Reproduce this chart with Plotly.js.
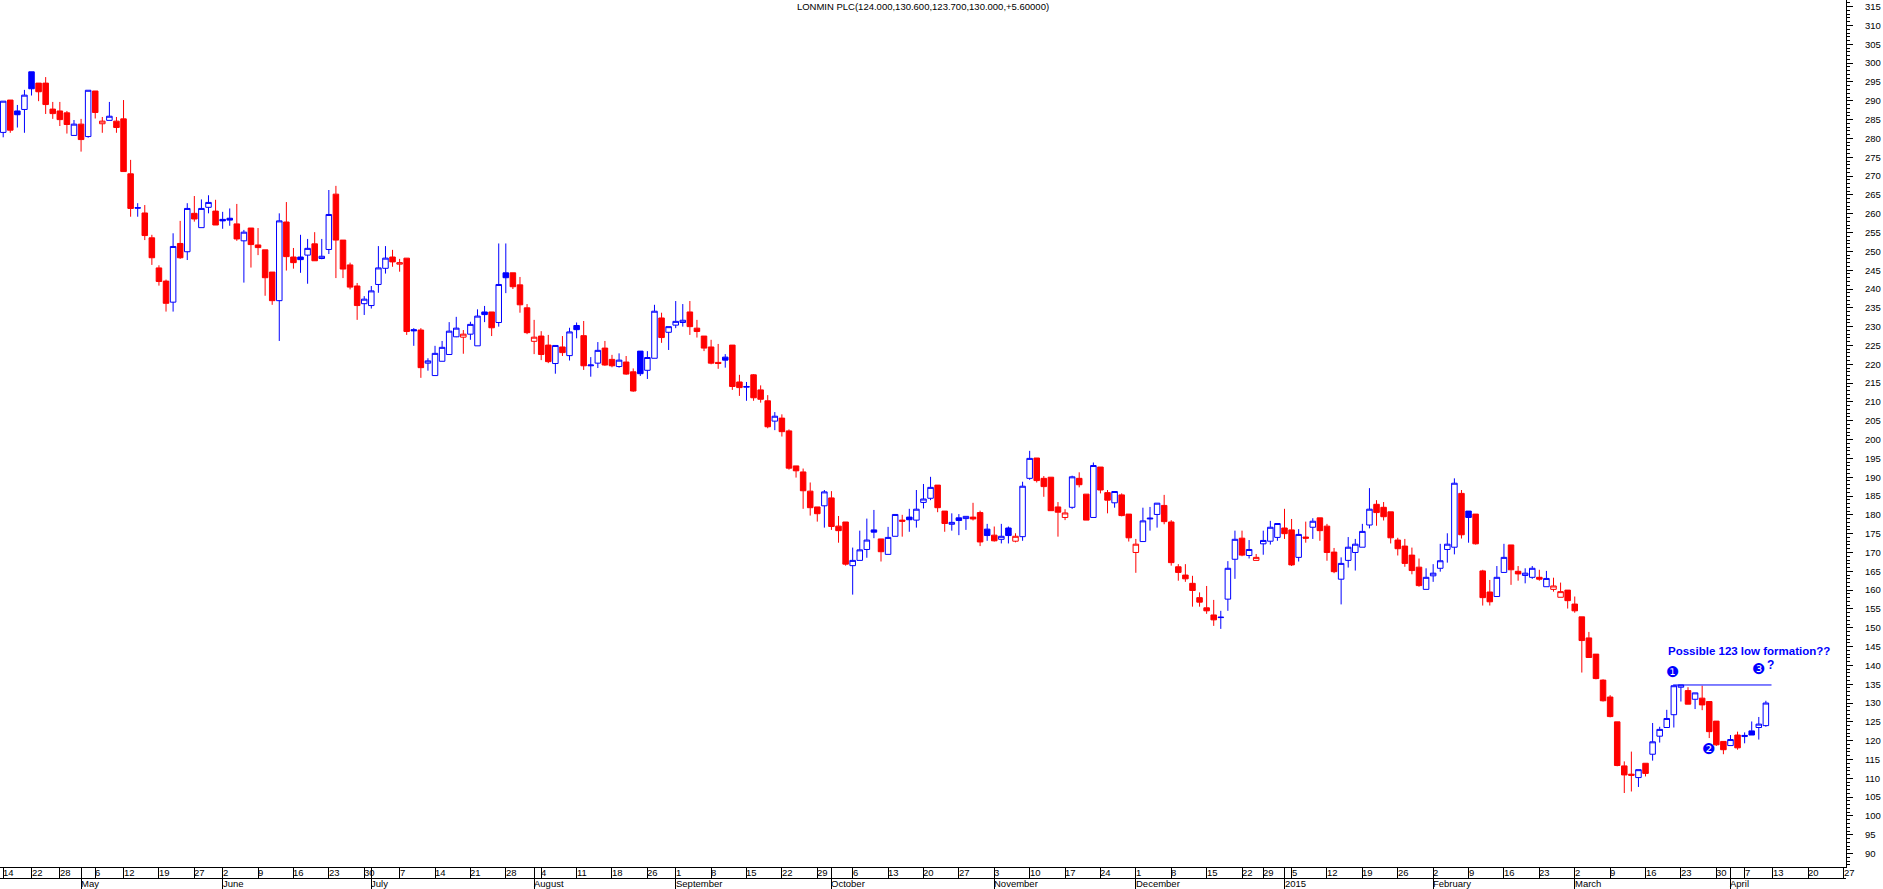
<!DOCTYPE html>
<html>
<head>
<meta charset="utf-8">
<script src="https://cdn.plot.ly/plotly-3.0.1.min.js"></script>
<style>html,body{margin:0;padding:0;background:#fff;overflow:hidden}</style>
</head>
<body>
<div id="chart" style="width:1883px;height:889px"></div>
<script>
// ---------- DATA ----------
const tradingDates = [
'2014-04-14','2014-04-15','2014-04-16','2014-04-17','2014-04-22','2014-04-23','2014-04-24','2014-04-25','2014-04-28','2014-04-29','2014-04-30',
'2014-05-01','2014-05-02','2014-05-06','2014-05-07','2014-05-08','2014-05-09','2014-05-12','2014-05-13','2014-05-14','2014-05-15','2014-05-16','2014-05-19','2014-05-20','2014-05-21','2014-05-22','2014-05-23','2014-05-27','2014-05-28','2014-05-29','2014-05-30',
'2014-06-02','2014-06-03','2014-06-04','2014-06-05','2014-06-06','2014-06-09','2014-06-10','2014-06-11','2014-06-12','2014-06-13','2014-06-16','2014-06-17','2014-06-18','2014-06-19','2014-06-20','2014-06-23','2014-06-24','2014-06-25','2014-06-26','2014-06-27','2014-06-30',
'2014-07-01','2014-07-02','2014-07-03','2014-07-04','2014-07-07','2014-07-08','2014-07-09','2014-07-10','2014-07-11','2014-07-14','2014-07-15','2014-07-16','2014-07-17','2014-07-18','2014-07-21','2014-07-22','2014-07-23','2014-07-24','2014-07-25','2014-07-28','2014-07-29','2014-07-30','2014-07-31',
'2014-08-01','2014-08-04','2014-08-05','2014-08-06','2014-08-07','2014-08-08','2014-08-11','2014-08-12','2014-08-13','2014-08-14','2014-08-15','2014-08-18','2014-08-19','2014-08-20','2014-08-21','2014-08-22','2014-08-26','2014-08-27','2014-08-28','2014-08-29',
'2014-09-01','2014-09-02','2014-09-03','2014-09-04','2014-09-05','2014-09-08','2014-09-09','2014-09-10','2014-09-11','2014-09-12','2014-09-15','2014-09-16','2014-09-17','2014-09-18','2014-09-19','2014-09-22','2014-09-23','2014-09-24','2014-09-25','2014-09-26','2014-09-29','2014-09-30',
'2014-10-01','2014-10-02','2014-10-03','2014-10-06','2014-10-07','2014-10-08','2014-10-09','2014-10-10','2014-10-13','2014-10-14','2014-10-15','2014-10-16','2014-10-17','2014-10-20','2014-10-21','2014-10-22','2014-10-23','2014-10-24','2014-10-27','2014-10-28','2014-10-29','2014-10-30','2014-10-31',
'2014-11-03','2014-11-04','2014-11-05','2014-11-06','2014-11-07','2014-11-10','2014-11-11','2014-11-12','2014-11-13','2014-11-14','2014-11-17','2014-11-18','2014-11-19','2014-11-20','2014-11-21','2014-11-24','2014-11-25','2014-11-26','2014-11-27','2014-11-28',
'2014-12-01','2014-12-02','2014-12-03','2014-12-04','2014-12-05','2014-12-08','2014-12-09','2014-12-10','2014-12-11','2014-12-12','2014-12-15','2014-12-16','2014-12-17','2014-12-18','2014-12-19','2014-12-22','2014-12-23','2014-12-24','2014-12-29','2014-12-30','2014-12-31',
'2015-01-02','2015-01-05','2015-01-06','2015-01-07','2015-01-08','2015-01-09','2015-01-12','2015-01-13','2015-01-14','2015-01-15','2015-01-16','2015-01-19','2015-01-20','2015-01-21','2015-01-22','2015-01-23','2015-01-26','2015-01-27','2015-01-28','2015-01-29','2015-01-30',
'2015-02-02','2015-02-03','2015-02-04','2015-02-05','2015-02-06','2015-02-09','2015-02-10','2015-02-11','2015-02-12','2015-02-13','2015-02-16','2015-02-17','2015-02-18','2015-02-19','2015-02-20','2015-02-23','2015-02-24','2015-02-25','2015-02-26','2015-02-27',
'2015-03-02','2015-03-03','2015-03-04','2015-03-05','2015-03-06','2015-03-09','2015-03-10','2015-03-11','2015-03-12','2015-03-13','2015-03-16','2015-03-17','2015-03-18','2015-03-19','2015-03-20','2015-03-23','2015-03-24','2015-03-25','2015-03-26','2015-03-27','2015-03-30','2015-03-31',
'2015-04-01','2015-04-02','2015-04-07','2015-04-08','2015-04-09','2015-04-10'
];
// empty trading days still shown on the time axis after the last bar
const futureDates = ['2015-04-13','2015-04-14','2015-04-15','2015-04-16','2015-04-17','2015-04-20','2015-04-21','2015-04-22','2015-04-23','2015-04-24','2015-04-27','2015-04-28'];

const openP = [
281.6,290.2,287.3,287.7,297.7,294.7,294.7,287.8,287.3,286.8,280.8,283.8,280.5,292.6,283.9,284.8,284.6,285.2,270.6,261.6,
260.2,253.6,245.6,242.1,236.5,252.1,249.9,260.1,256.3,261.7,260.7,258.5,258.8,257.3,252.8,256.2,251.7,250.4,244.5,236.9,
257.8,248.5,248.5,249.0,252.0,248.1,250.5,265.2,253.0,246.4,240.8,236.1,235.6,241.2,245.5,248.5,246.6,248.2,229.2,229.1,
220.3,217.0,220.8,222.6,227.3,227.2,228.0,224.9,233.9,233.9,231.1,244.3,244.3,241.1,235.0,226.1,227.5,225.1,220.2,224.6,
222.3,230.3,227.6,219.6,220.3,224.3,221.3,219.4,220.6,218.0,223.5,218.4,221.6,232.3,228.5,230.4,231.1,233.9,229.6,227.5,
224.6,220.5,221.9,225.1,215.3,213.9,217.2,213.2,210.3,204.9,205.7,202.3,193.0,191.4,186.3,182.1,182.4,184.5,177.0,178.1,
166.5,167.9,170.8,176.0,173.6,169.5,174.3,178.6,179.4,178.6,183.3,184.4,187.9,181.0,177.5,179.2,179.0,179.4,180.6,176.2,
174.6,173.5,176.5,173.0,174.2,189.7,195.1,189.7,190.0,182.1,179.3,182.0,189.7,185.5,179.3,192.7,185.9,183.2,185.3,180.2,
170.0,172.9,178.9,180.1,182.5,178.1,166.2,164.0,161.8,158.0,155.3,153.4,152.7,157.6,168.2,173.8,169.2,167.9,172.3,173.0,
174.0,176.5,176.0,168.7,174.1,176.7,179.2,177.0,170.1,162.9,167.9,170.0,171.4,177.3,182.8,182.0,180.8,173.3,171.7,169.3,
166.1,160.2,163.8,165.8,170.8,171.4,185.7,181.0,180.2,165.1,159.5,158.3,164.7,172.0,165.0,163.9,163.4,163.4,160.9,160.2,
158.1,160.0,156.3,152.9,147.3,143.0,136.1,131.6,125.0,113.3,111.1,110.2,114.0,116.4,121.2,123.5,126.9,134.2,133.3,131.0,
131.3,130.4,125.2,119.8,118.7,121.5,121.1,122.6,123.5,124.0
];
const highP = [
289.9,290.2,288.9,292.9,297.7,294.7,296.3,289.7,289.7,287.3,284.9,285.2,292.8,292.6,285.7,289.7,285.7,290.2,274.3,262.8,
262.3,254.4,246.3,242.5,254.8,258.1,262.8,264.7,263.8,264.9,263.7,260.5,261.4,262.6,255.7,256.2,256.2,250.4,244.5,260.1,
263.1,250.9,254.4,253.3,255.1,253.3,266.3,267.4,253.0,247.0,241.6,238.1,240.8,251.4,251.4,250.4,248.0,248.2,229.6,229.6,
221.6,224.9,226.2,231.2,232.6,229.1,231.3,234.6,235.5,233.9,252.1,252.1,244.3,243.2,236.0,231.8,228.8,227.8,225.0,227.5,
229.7,231.1,231.5,221.9,225.9,226.2,222.5,222.9,222.2,218.9,223.5,223.5,235.8,233.7,230.0,236.8,236.0,236.8,231.8,227.5,
226.5,225.4,222.7,225.1,217.2,215.3,217.4,214.4,211.8,207.3,206.7,202.7,193.0,192.3,188.6,182.1,186.6,186.3,179.7,178.1,
171.3,175.8,179.0,181.3,173.6,176.8,180.1,180.0,181.6,186.6,188.2,190.1,187.9,181.0,180.4,180.2,179.6,183.2,181.1,177.6,
176.9,177.6,176.9,175.1,188.8,197.0,195.1,190.3,190.0,183.4,181.5,190.4,191.3,185.5,193.9,192.7,186.6,186.2,185.7,180.2,
173.6,181.9,182.1,183.1,185.3,178.6,166.9,166.9,163.8,159.4,161.1,157.4,154.5,167.7,175.8,175.8,173.3,169.6,175.8,178.4,
177.7,181.6,178.9,176.2,178.2,179.1,179.2,177.6,171.2,168.7,174.1,173.6,177.6,187.1,183.9,183.4,180.8,173.9,173.6,171.3,
168.4,165.8,166.9,172.3,175.1,189.7,186.6,181.0,180.2,165.4,162.7,166.4,172.3,172.0,166.4,165.8,166.4,165.4,165.1,163.3,
162.0,160.0,158.3,152.9,148.9,143.0,136.3,132.1,125.0,114.5,117.1,112.3,114.0,124.7,123.7,128.2,134.6,134.8,134.2,132.7,
134.6,130.4,125.2,119.8,121.5,122.4,122.2,125.1,126.3,130.6
];
const lowP = [
280.3,281.5,282.9,281.5,291.4,289.9,286.5,285.2,283.3,281.3,280.8,276.5,280.2,285.3,281.5,284.8,281.5,271.2,259.2,259.2,
253.0,246.4,240.9,234.0,234.0,248.0,247.7,257.9,256.3,260.1,257.0,256.0,256.8,252.8,241.7,245.7,249.0,238.2,235.8,226.2,
244.9,245.4,244.3,241.4,247.5,247.9,249.3,242.9,242.9,239.9,231.8,233.1,234.8,239.0,244.1,245.9,244.6,227.8,224.9,216.4,
218.3,217.0,220.8,222.6,227.2,222.8,226.5,224.9,231.2,227.5,230.0,238.9,240.0,233.7,228.0,222.7,221.1,220.3,217.5,222.2,
221.0,226.9,218.5,216.7,219.0,219.6,219.2,219.1,217.2,212.7,216.9,216.1,221.6,225.7,223.8,229.6,230.0,227.8,227.1,223.5,
220.0,218.8,219.1,213.2,211.6,210.3,210.3,209.8,203.0,202.5,200.8,192.0,189.9,181.6,179.8,178.2,176.6,176.0,172.6,166.5,
158.8,167.9,168.6,173.8,167.6,169.5,174.3,174.2,175.5,176.6,181.7,183.9,180.7,175.5,175.8,174.6,176.0,178.5,171.7,173.1,
172.9,172.4,172.4,172.7,173.1,189.3,188.6,184.8,181.1,174.2,178.6,181.6,187.3,178.6,179.3,185.7,180.4,181.9,179.6,172.9,
164.6,172.9,175.8,176.6,177.5,166.5,162.5,162.2,155.6,155.6,153.7,150.5,149.7,154.5,163.0,169.0,168.4,167.9,169.4,172.1,
173.1,173.6,166.4,167.6,172.6,173.6,173.1,167.8,164.5,156.2,166.0,165.2,171.4,176.4,177.1,178.5,172.4,169.2,166.2,164.2,
160.9,160.2,162.2,164.9,167.3,169.5,173.7,172.6,172.1,155.9,155.9,158.3,164.7,161.4,162.5,161.8,163.0,162.5,160.9,159.6,
158.1,155.1,154.0,138.1,142.1,136.3,130.4,126.2,113.2,106.1,106.5,107.7,110.5,114.7,119.5,123.5,123.5,130.4,129.7,128.4,
128.1,120.7,118.6,116.4,118.7,117.6,119.3,121.5,120.3,123.7
];
const closeP = [
289.9,282.2,286.3,291.5,293.2,292.4,289.0,286.6,285.0,283.7,283.8,279.7,292.8,286.9,284.6,285.9,282.9,271.2,261.4,261.5,
254.2,248.3,242.0,236.2,251.3,248.3,261.4,258.6,261.4,263.0,257.0,258.1,258.3,253.3,255.1,251.8,251.0,243.0,236.9,258.1,
248.6,247.0,247.8,250.8,247.5,248.7,259.8,253.0,245.3,240.5,235.6,237.3,239.5,245.6,248.2,247.2,247.0,228.7,228.9,219.1,
220.9,222.9,224.5,228.8,229.6,228.0,230.6,232.8,233.2,229.7,241.2,243.0,240.6,235.8,228.4,227.2,222.6,220.7,225.0,223.1,
228.6,229.2,219.6,219.8,223.7,219.8,219.6,221.1,217.4,212.9,217.5,221.8,234.1,227.1,230.0,231.4,231.7,230.0,228.7,224.3,
220.3,220.2,221.1,214.1,213.8,214.1,211.1,210.7,203.4,206.2,202.1,192.4,191.7,186.4,181.9,180.3,186.1,176.9,175.8,166.9,
167.9,170.7,173.3,175.4,170.2,174.0,180.1,178.3,178.7,181.5,184.2,187.3,181.9,177.7,178.0,178.5,179.6,178.9,172.8,174.5,
173.1,174.3,174.5,174.3,187.6,195.0,189.1,187.5,181.1,180.7,180.5,190.1,188.0,178.6,193.1,186.6,183.9,186.2,179.8,173.9,
172.2,178.4,179.1,183.1,178.2,167.3,164.7,163.0,159.9,156.8,154.5,152.1,152.8,165.8,173.5,169.3,170.8,168.7,173.2,176.7,
177.7,175.0,166.7,174.8,173.8,178.3,175.8,170.0,164.9,167.1,171.4,172.2,175.6,181.5,180.6,179.5,173.9,171.0,167.1,165.2,
161.2,163.4,164.5,167.8,172.2,188.4,174.7,179.3,172.3,158.0,156.9,163.4,168.7,165.4,164.3,164.5,165.8,162.9,163.1,161.1,
159.6,157.2,154.5,146.6,142.1,136.5,130.6,126.4,113.4,110.9,110.8,112.3,111.3,119.7,123.0,125.9,134.6,134.8,129.7,132.7,
129.5,122.4,118.9,117.6,120.3,118.1,121.4,121.5,124.4,130.0
];
const stockName = 'LONMIN PLC';
const monthNames = ['January','February','March','April','May','June','July','August','September','October','November','December'];
const patternText = 'Possible 123 low formation??';

// ---------- STYLE ----------
const FONT = '"Liberation Sans",Arial,sans-serif';
const BLUE = '#0000ff', RED = '#ff0000';
const W = 1883, H = 889, PLOT_RIGHT = 1846, PLOT_BOTTOM = 867, ROW2 = 878;

// ---------- BUILD ----------
if (tradingDates.length !== closeP.length) console.error('length mismatch', tradingDates.length, closeP.length);
const calendar = tradingDates.concat(futureDates);
const parse = s => new Date(s + 'T00:00:00Z');
const weekStarts = [], monthStarts = [];
calendar.forEach((s, i) => {
  const d = parse(s);
  if (i === 0) { weekStarts.push(i); return; }
  const p = parse(calendar[i - 1]);
  if (d.getUTCDay() <= p.getUTCDay() || (d - p) / 864e5 >= 7) weekStarts.push(i);
  if (d.getUTCMonth() !== p.getUTCMonth()) monthStarts.push(i);
});

// blue = close above previous close, red = below; hollow = close above open
const up = {x: [], open: [], high: [], low: [], close: []};
const dn = {x: [], open: [], high: [], low: [], close: []};
closeP.forEach((c, i) => {
  const ref = i === 0 ? openP[0] : closeP[i - 1];
  const g = c >= ref ? up : dn;
  g.x.push(i); g.open.push(openP[i]); g.high.push(highP[i]); g.low.push(lowP[i]); g.close.push(c);
});
function candle(g, col) {
  return {
    type: 'candlestick', x: g.x, open: g.open, high: g.high, low: g.low, close: g.close,
    xaxis: 'x', yaxis: 'y', whiskerwidth: 0, showlegend: false, hoverinfo: 'skip',
    line: {width: 1},
    increasing: {line: {color: col, width: 1}, fillcolor: '#ffffff'},
    decreasing: {line: {color: col, width: 1}, fillcolor: col}
  };
}

const last = closeP.length - 1;
const chg = closeP[last] - closeP[last - 1];
const titleText = stockName + '(' + [openP[last], highP[last], lowP[last], closeP[last]].map(v => v.toFixed(3)).join(',') +
  ',' + (chg >= 0 ? '+' : '') + chg.toFixed(5) + ')';

const pxPerDay = 7.079, firstX = 3.2;
const xRange = [-firstX / pxPerDay, (PLOT_RIGHT - firstX) / pxPerDay];
const yRange = [86.44, 316.78];

const ann = [];
const yWeek = 1 - 872.8 / H, yMonth = 1 - 883.2 / H;
weekStarts.forEach(i => ann.push({
  x: i, xref: 'x', y: yWeek, yref: 'paper', text: String(parse(calendar[i]).getUTCDate()),
  showarrow: false, xanchor: 'left', yanchor: 'middle', xshift: -1, borderpad: 0,
  font: {family: FONT, size: 9.5, color: '#000'}
}));
monthStarts.forEach(i => {
  const d = parse(calendar[i]);
  ann.push({
    x: i, xref: 'x', y: yMonth, yref: 'paper',
    text: d.getUTCMonth() === 0 ? String(d.getUTCFullYear()) : monthNames[d.getUTCMonth()],
    showarrow: false, xanchor: 'left', yanchor: 'middle', xshift: -1, borderpad: 0,
    font: {family: FONT, size: 9.5, color: '#000'}
  });
});
// 1-2-3 pattern marks
ann.push({x: 246.6, y: 143.9, xref: 'x', yref: 'y', text: '<b>' + patternText + '</b>', showarrow: false,
  font: {family: FONT, size: 11.5, color: BLUE}});
ann.push({x: 235.8, y: 138.2, xref: 'x', yref: 'y', text: '❶', showarrow: false, font: {family: 'DejaVu Sans', size: 15, color: BLUE}});
ann.push({x: 240.9, y: 117.9, xref: 'x', yref: 'y', text: '❷', showarrow: false, font: {family: 'DejaVu Sans', size: 15, color: BLUE}});
ann.push({x: 247.9, y: 139.0, xref: 'x', yref: 'y', text: '❸', showarrow: false, font: {family: 'DejaVu Sans', size: 15, color: BLUE}});
ann.push({x: 249.7, y: 140.2, xref: 'x', yref: 'y', text: '<b>?</b>', showarrow: false, font: {family: FONT, size: 12, color: BLUE}});

const pivot1 = 237;
const resistance = highP[pivot1];

const layout = {
  width: W, height: H,
  margin: {l: 0, r: W - PLOT_RIGHT, t: 0, b: 0, pad: 0},
  paper_bgcolor: '#ffffff', plot_bgcolor: '#ffffff',
  showlegend: false, dragmode: false, hovermode: false,
  boxgap: 0.22, boxgroupgap: 0,
  title: {text: titleText, x: 0.5, xref: 'paper', xanchor: 'center', y: 1 - 7 / H, yref: 'container', yanchor: 'middle',
    font: {family: FONT, size: 9.5, color: '#000'}},
  xaxis: {
    type: 'linear', range: xRange, anchor: 'y', automargin: false,
    showgrid: false, zeroline: false, showline: true, linecolor: '#000', linewidth: 1,
    ticks: 'outside', ticklen: ROW2 - PLOT_BOTTOM, tickwidth: 1, tickcolor: '#000',
    tickmode: 'array', tickvals: weekStarts.concat(monthStarts), showticklabels: false,
    rangeslider: {visible: false}, fixedrange: true
  },
  xaxis2: {
    type: 'linear', range: xRange, overlaying: 'x', anchor: 'free', position: (H - ROW2) / H, automargin: false,
    showgrid: false, zeroline: false, showline: true, linecolor: '#000', linewidth: 1,
    ticks: 'outside', ticklen: H - ROW2, tickwidth: 1, tickcolor: '#000',
    tickmode: 'array', tickvals: monthStarts, showticklabels: false, fixedrange: true
  },
  yaxis: {
    domain: [(H - PLOT_BOTTOM) / H, 1], range: yRange, side: 'right', automargin: false,
    showgrid: false, zeroline: false, showline: true, linecolor: '#000', linewidth: 1,
    ticks: 'outside', ticklen: 6, tickwidth: 1, tickcolor: '#000', tick0: 0, dtick: 5,
    ticklabelstandoff: 10,
    tickfont: {family: FONT, size: 9.5, color: '#000'},
    minor: {ticks: 'outside', dtick: 1, tick0: 0, ticklen: 3, tickcolor: '#000', tickwidth: 1, showgrid: false},
    fixedrange: true
  },
  shapes: [{type: 'line', xref: 'x', yref: 'y', x0: 235.9, x1: 249.8, y0: resistance, y1: resistance,
    line: {color: BLUE, width: 1}}],
  annotations: ann
};

const traces = [
  candle(dn, RED),
  candle(up, BLUE),
  {type: 'scatter', x: [], y: [], xaxis: 'x2', yaxis: 'y', showlegend: false, hoverinfo: 'skip'}
];
Plotly.newPlot('chart', traces, layout, {staticPlot: true, displayModeBar: false});
</script>
</body>
</html>
